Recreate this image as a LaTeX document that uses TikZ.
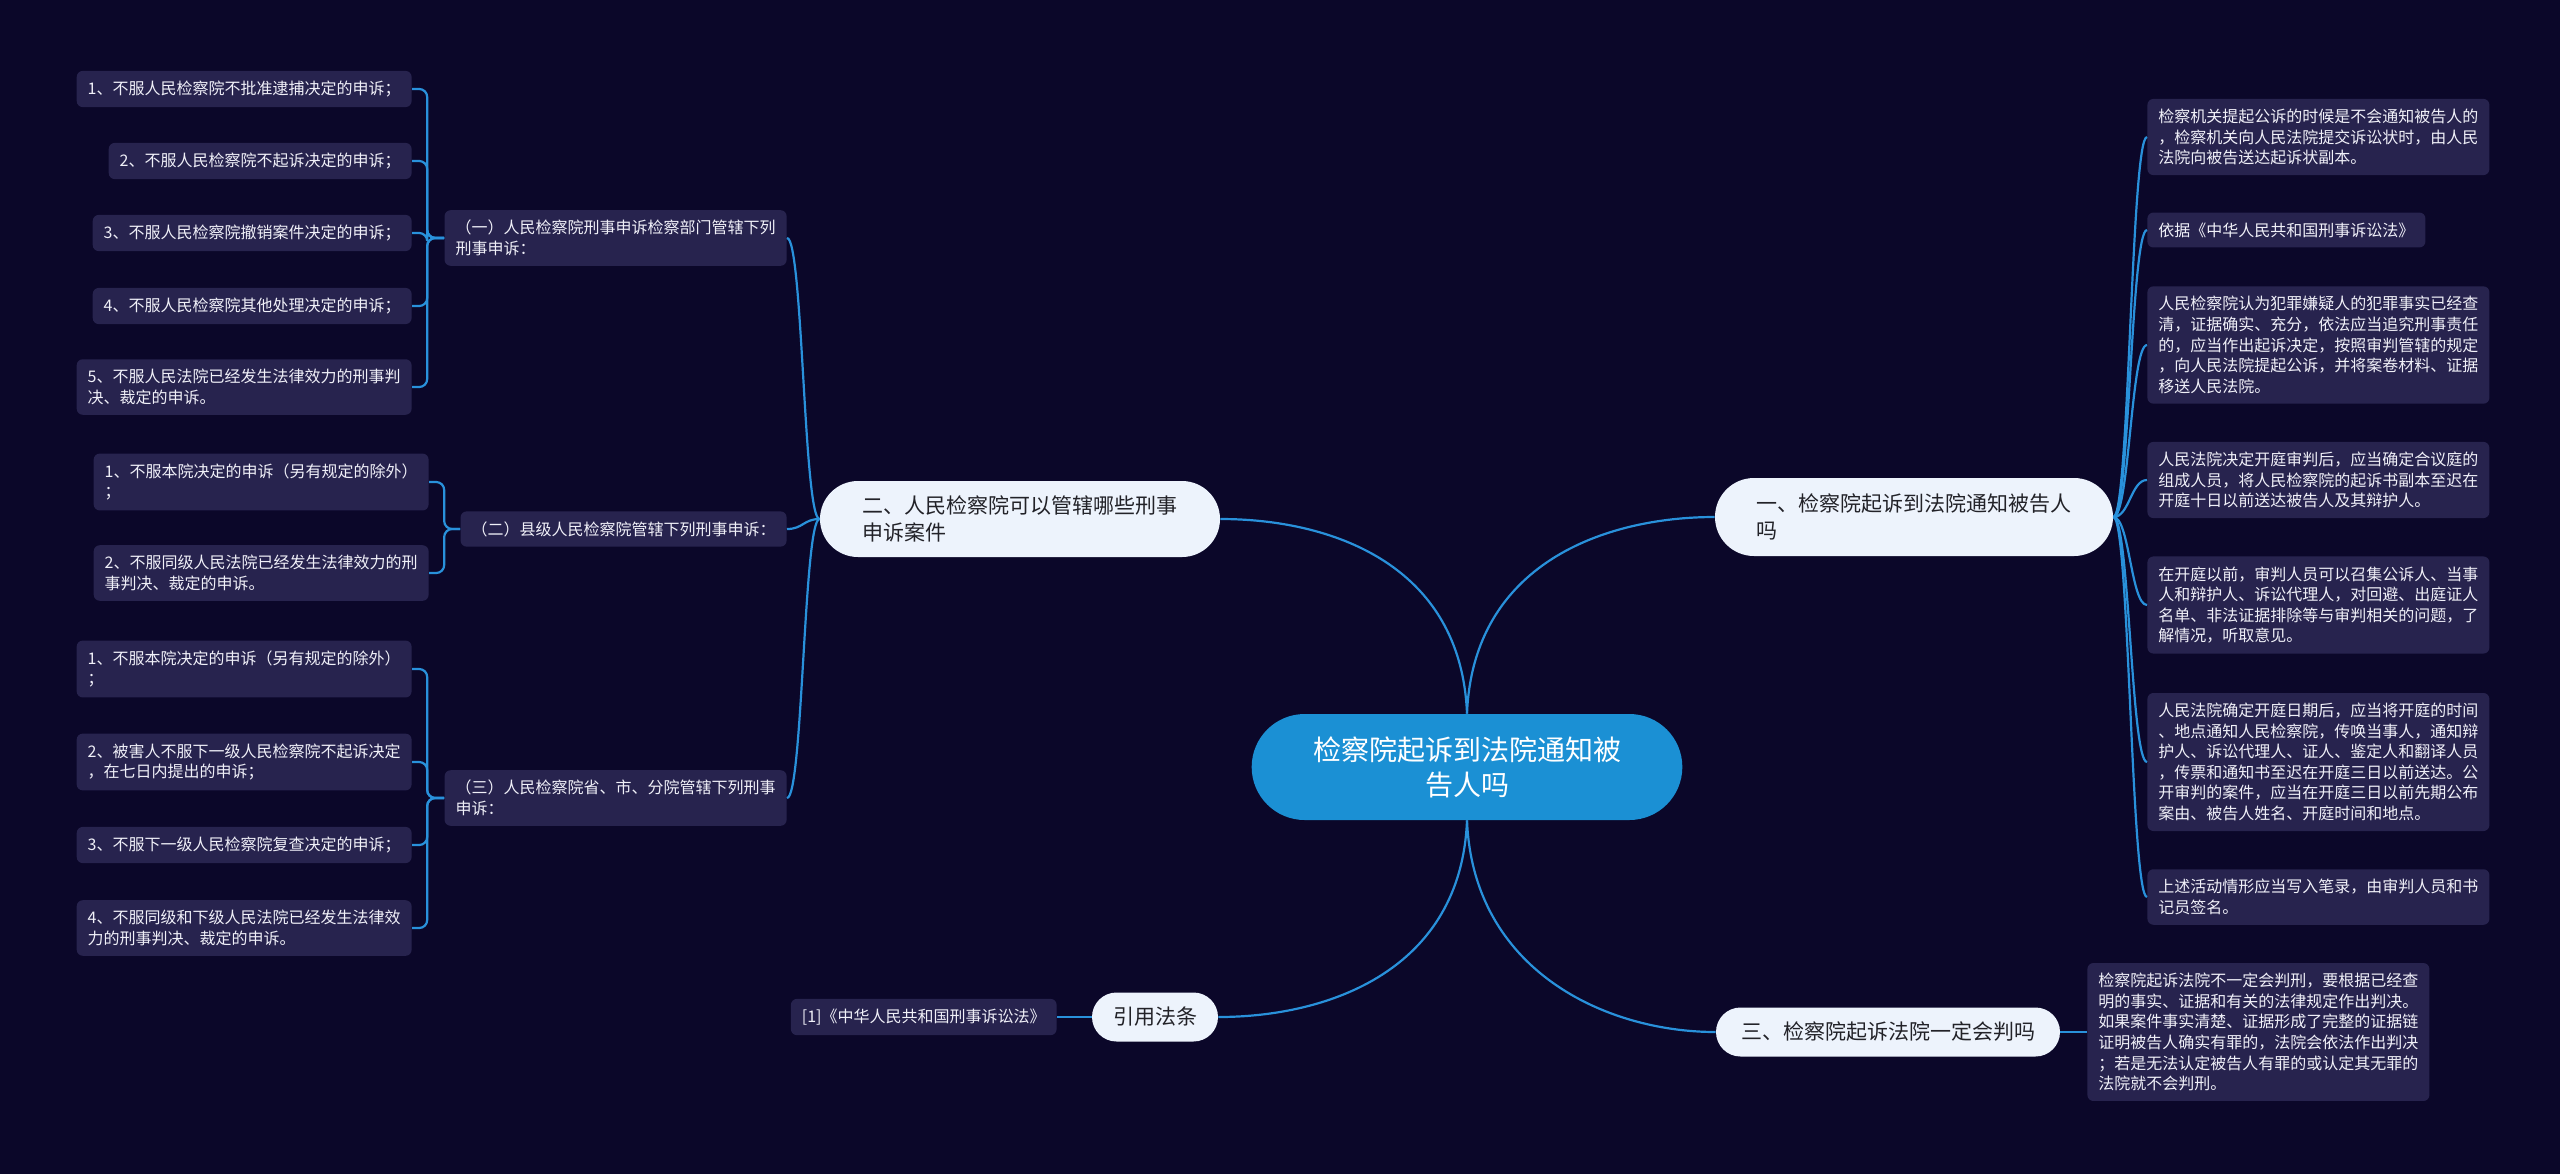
\documentclass[tikz,border=0pt]{standalone}
\usepackage{fontspec}
\setmainfont{Noto Sans CJK SC}
\usetikzlibrary{shapes.misc}

\definecolor{bgnavy}{RGB}{11,7,41}
\definecolor{leafbg}{RGB}{39,35,78}
\definecolor{leaftext}{RGB}{240,240,248}
\definecolor{topicbg}{RGB}{237,243,252}
\definecolor{topictext}{RGB}{34,34,40}
\definecolor{rootbg}{RGB}{27,144,212}
\definecolor{linkblue}{RGB}{41,145,219}

\begin{document}
\begin{tikzpicture}[
  x=0.5pt, y=-0.5pt,
  leaf/.style = {
    rectangle, rounded corners=3pt, fill=leafbg, text=leaftext,
    inner xsep=5.5pt, inner ysep=5pt, align=left,
    font=\fontsize{8pt}{10.3pt}\selectfont,
  },
  topic/.style = {
    rounded rectangle, fill=topicbg, text=topictext,
    inner xsep=2pt, inner ysep=2pt, align=left,
    font=\fontsize{10.5pt}{13.3pt}\selectfont,
  },
  root/.style = {
    rounded rectangle, fill=rootbg, text=white,
    minimum width=222pt, minimum height=53pt, align=center,
    font=\fontsize{14pt}{17.5pt}\selectfont,
  },
  link/.style = {draw=linkblue, line width=1.1pt},
]
  \useasboundingbox (0,0) rectangle (2560,1174);
  \fill[bgnavy] (0,0) rectangle (2560,1174);

  \node[root] (root) at (1467,767) {检察院起诉到法院通知被\\告人吗};

  \node[topic, minimum width=204pt, minimum height=38pt]   (two)   at (1020,519)  {二、人民检察院可以管辖哪些刑事\\申诉案件};
  \node[topic, minimum width=203pt, minimum height=39pt]   (one)   at (1914,517)  {一、检察院起诉到法院通知被告人\\吗};
  \node[topic, minimum width=176pt, minimum height=24.5pt] (three) at (1888,1032) {三、检察院起诉法院一定会判吗};
  \node[topic, minimum width=67pt, minimum height=24.5pt, align=center] (cite) at (1155,1017) {引用法条};

  % left side: groups under 二
  \node[leaf, anchor=east] (grp1) at (787,238) {（一）人民检察院刑事申诉检察部门管辖下列\\刑事申诉：};
  \node[leaf, anchor=east] (grp2) at (787,529) {（二）县级人民检察院管辖下列刑事申诉：};
  \node[leaf, anchor=east] (grp3) at (787,798) {（三）人民检察院省、市、分院管辖下列刑事\\申诉：};

  \node[leaf, anchor=east] (a1) at (412,89)  {1、不服人民检察院不批准逮捕决定的申诉；};
  \node[leaf, anchor=east] (a2) at (412,161) {2、不服人民检察院不起诉决定的申诉；};
  \node[leaf, anchor=east] (a3) at (412,233) {3、不服人民检察院撤销案件决定的申诉；};
  \node[leaf, anchor=east] (a4) at (412,306) {4、不服人民检察院其他处理决定的申诉；};
  \node[leaf, anchor=east] (a5) at (412,387) {5、不服人民法院已经发生法律效力的刑事判\\决、裁定的申诉。};

  \node[leaf, anchor=east] (b1) at (429,482) {1、不服本院决定的申诉（另有规定的除外）\\；};
  \node[leaf, anchor=east] (b2) at (429,573) {2、不服同级人民法院已经发生法律效力的刑\\事判决、裁定的申诉。};

  \node[leaf, anchor=east] (c1) at (412,669) {1、不服本院决定的申诉（另有规定的除外）\\；};
  \node[leaf, anchor=east] (c2) at (412,762) {2、被害人不服下一级人民检察院不起诉决定\\，在七日内提出的申诉；};
  \node[leaf, anchor=east] (c3) at (412,845) {3、不服下一级人民检察院复查决定的申诉；};
  \node[leaf, anchor=east] (c4) at (412,928) {4、不服同级和下级人民法院已经发生法律效\\力的刑事判决、裁定的申诉。};

  \node[leaf, anchor=east] (law) at (1057,1017) {[1]《中华人民共和国刑事诉讼法》};

  % right side: notes under 一
  \node[leaf, anchor=west] (r1) at (2147,137) {检察机关提起公诉的时候是不会通知被告人的\\，检察机关向人民法院提交诉讼状时，由人民\\法院向被告送达起诉状副本。};
  \node[leaf, anchor=west] (r2) at (2147,230) {依据《中华人民共和国刑事诉讼法》};
  \node[leaf, anchor=west] (r3) at (2147,345) {人民检察院认为犯罪嫌疑人的犯罪事实已经查\\清，证据确实、充分，依法应当追究刑事责任\\的，应当作出起诉决定，按照审判管辖的规定\\，向人民法院提起公诉，并将案卷材料、证据\\移送人民法院。};
  \node[leaf, anchor=west] (r4) at (2147,480) {人民法院决定开庭审判后，应当确定合议庭的\\组成人员，将人民检察院的起诉书副本至迟在\\开庭十日以前送达被告人及其辩护人。};
  \node[leaf, anchor=west] (r5) at (2147,605) {在开庭以前，审判人员可以召集公诉人、当事\\人和辩护人、诉讼代理人，对回避、出庭证人\\名单、非法证据排除等与审判相关的问题，了\\解情况，听取意见。};
  \node[leaf, anchor=west] (r6) at (2147,762) {人民法院确定开庭日期后，应当将开庭的时间\\、地点通知人民检察院，传唤当事人，通知辩\\护人、诉讼代理人、证人、鉴定人和翻译人员\\，传票和通知书至迟在开庭三日以前送达。公\\开审判的案件，应当在开庭三日以前先期公布\\案由、被告人姓名、开庭时间和地点。};
  \node[leaf, anchor=west] (r7) at (2147,897) {上述活动情形应当写入笔录，由审判人员和书\\记员签名。};

  \node[leaf, anchor=west] (verdict) at (2087,1032) {检察院起诉法院不一定会判刑，要根据已经查\\明的事实、证据和有关的法律规定作出判决。\\如果案件事实清楚、证据形成了完整的证据链\\证明被告人确实有罪的，法院会依法作出判决\\；若是无法认定被告人有罪的或认定其无罪的\\法院就不会判刑。};

  % root to topics
  \draw[link] (root.north) .. controls +(-6,-150) and +(110,0) .. (two.east);
  \draw[link] (root.north) .. controls +(6,-150) and +(-110,0) .. (one.west);
  \draw[link] (root.south) .. controls +(-6,150) and +(110,0) .. (cite.east);
  \draw[link] (root.south) .. controls +(6,150) and +(-110,0) .. (three.west);

  % 二 to its groups
  \draw[link] (two.west) .. controls +(-16,0) and +(16,0) .. (grp1.east);
  \draw[link] (two.west) .. controls +(-16,0) and +(16,0) .. (grp2.east);
  \draw[link] (two.west) .. controls +(-16,0) and +(16,0) .. (grp3.east);

  % groups to their items
  \draw[link, rounded corners=4pt] (grp1.west) -- ++(-17,0) |- (a1.east);
  \draw[link, rounded corners=4pt] (grp1.west) -- ++(-17,0) |- (a2.east);
  \draw[link, rounded corners=4pt] (grp1.west) -- ++(-17,0) |- (a3.east);
  \draw[link, rounded corners=4pt] (grp1.west) -- ++(-17,0) |- (a4.east);
  \draw[link, rounded corners=4pt] (grp1.west) -- ++(-17,0) |- (a5.east);
  \draw[link, rounded corners=4pt] (grp2.west) -- ++(-16,0) |- (b1.east);
  \draw[link, rounded corners=4pt] (grp2.west) -- ++(-16,0) |- (b2.east);
  \draw[link, rounded corners=4pt] (grp3.west) -- ++(-17,0) |- (c1.east);
  \draw[link, rounded corners=4pt] (grp3.west) -- ++(-17,0) |- (c2.east);
  \draw[link, rounded corners=4pt] (grp3.west) -- ++(-17,0) |- (c3.east);
  \draw[link, rounded corners=4pt] (grp3.west) -- ++(-17,0) |- (c4.east);

  % 一 to its notes
  \draw[link] (one.east) .. controls +(16,0) and +(-16,0) .. (r1.west);
  \draw[link] (one.east) .. controls +(16,0) and +(-16,0) .. (r2.west);
  \draw[link] (one.east) .. controls +(16,0) and +(-16,0) .. (r3.west);
  \draw[link] (one.east) .. controls +(16,0) and +(-16,0) .. (r4.west);
  \draw[link] (one.east) .. controls +(16,0) and +(-16,0) .. (r5.west);
  \draw[link] (one.east) .. controls +(16,0) and +(-16,0) .. (r6.west);
  \draw[link] (one.east) .. controls +(16,0) and +(-16,0) .. (r7.west);

  \draw[link] (three.east) -- (verdict.west);
  \draw[link] (cite.west) -- (law.east);
\end{tikzpicture}
\end{document}
